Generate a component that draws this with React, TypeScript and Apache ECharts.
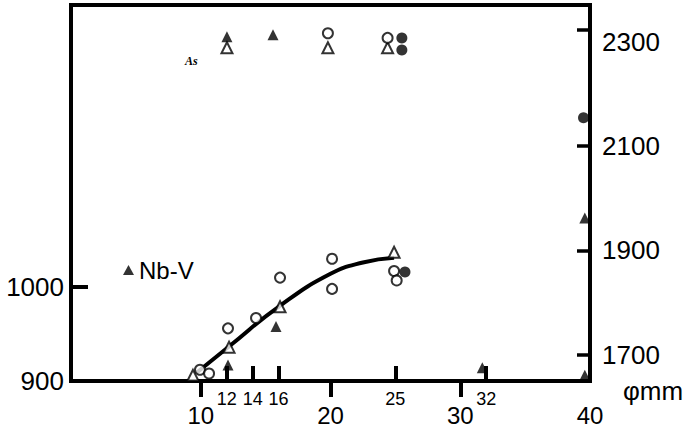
import React, { useEffect, useRef } from 'react';
import * as echarts from 'echarts';

// Axis ticks and labels
const majorXTicks = [10, 20, 30];
const majorXLabels = [10, 20, 30, 40];
const minorXTicks = [12, 14, 16, 25, 32];
const leftYTicks = [1000];
const leftYLabels = [900, 1000];
const rightYTicks = [1700, 1900, 2100, 2323];
const rightYLabels = [1700, 1900, 2100, 2300];

// Lower group (left axis)
const openCirclesLow = [[9.94, 912], [10.64, 908], [12.1, 956], [14.26, 967], [16.11, 1010], [20.12, 1030], [20.12, 998], [24.9, 1017], [25.1, 1007]];
const openTrianglesLow = [[9.4, 906], [12.18, 936], [16.11, 979], [24.9, 1037]];
const nbvLow = [[12.1, 917], [15.8, 958], [31.7, 914], [39.6, 906]];
const filledCirclesLow = [[25.74, 1016]];
const curveX = [9.7, 12.2, 16.1, 20.0, 22.5, 24.9];
const curveY = [909, 937, 980, 1014, 1026, 1031];

// Upper group (right axis)
const nbvHigh = [[12.02, 2309], [15.57, 2313], [39.6, 1962]];
const openTrianglesHigh = [[12.02, 2288], [19.8, 2288], [24.4, 2288]];
const openCirclesHigh = [[19.8, 2316], [24.4, 2307]];
const filledCirclesHigh = [[25.5, 2307], [25.5, 2284], [39.5, 2154]];

export default function App() {
  const ref = useRef<HTMLDivElement>(null);
  useEffect(() => {
    const chart = echarts.init(ref.current!, null, { renderer: 'svg' });
    const font = "'Liberation Sans', Arial, Helvetica, sans-serif";
    const black = '#000';
    const plain = (v: number) => String(v);
    const openStyle = { color: '#fff', borderColor: black, borderWidth: 2 };
    const filledStyle = { color: black };
    const sc = (name: string, data: number[][], symbol: string, size: number, style: any, yIdx: number) => ({
      name, type: 'scatter', xAxisIndex: 0, yAxisIndex: yIdx, data, symbol, symbolSize: size,
      itemStyle: style, z: 3, clip: false,
    });
    chart.setOption({
      animation: false,
      backgroundColor: '#fff',
      textStyle: { fontFamily: font, color: black },
      grid: { left: 71, right: 97, top: 5, bottom: 48, show: true, borderColor: black, borderWidth: 4, backgroundColor: 'transparent' },
      legend: {
        data: ['Nb-V'], left: 123, top: 258, padding: 0, itemWidth: 11, itemHeight: 10, itemGap: 10, icon: 'triangle',
        selectedMode: false, textStyle: { fontSize: 24, color: black, fontFamily: font },
      },
      xAxis: [
        {
          type: 'value', min: 0, max: 40, position: 'bottom', splitLine: { show: false },
          axisLine: { show: true, onZero: false, lineStyle: { color: black, width: 4 } },
          axisTick: { show: true, customValues: majorXTicks, length: 16, inside: false, lineStyle: { color: black, width: 4 } },
          axisLabel: { customValues: majorXLabels, formatter: plain, fontSize: 24, lineHeight: 20, margin: 24, color: black, fontFamily: font },
          name: 'φmm', nameLocation: 'end', nameGap: 33,
          nameTextStyle: { fontSize: 26, lineHeight: 20, verticalAlign: 'top', color: black, fontFamily: font },
        },
        {
          type: 'value', min: 0, max: 40, position: 'bottom', splitLine: { show: false },
          axisLine: { show: false, onZero: false },
          axisTick: { show: true, customValues: minorXTicks, length: 15, inside: true, lineStyle: { color: black, width: 4 } },
          axisLabel: { customValues: minorXTicks, formatter: plain, fontSize: 18, margin: 9, color: black, fontFamily: font },
        },
      ],
      yAxis: [
        {
          type: 'value', min: 900, max: 1300, position: 'left', splitLine: { show: false },
          axisLine: { show: true, onZero: false, lineStyle: { color: black, width: 4 } },
          axisTick: { show: true, customValues: leftYTicks, length: 17, inside: true, lineStyle: { color: black, width: 4 } },
          axisLabel: { customValues: leftYLabels, formatter: plain, fontSize: 26, margin: 7, color: black, fontFamily: font },
        },
        {
          type: 'value', min: 1650, max: 2370, position: 'right', splitLine: { show: false },
          axisLine: { show: true, onZero: false, lineStyle: { color: black, width: 4 } },
          axisTick: { show: true, customValues: rightYTicks, length: 13, inside: true, lineStyle: { color: black, width: 3.5 } },
          axisLabel: { customValues: rightYLabels, formatter: plain, fontSize: 26, margin: 12, color: black, fontFamily: font },
        },
      ],
      graphic: [
        { type: 'text', left: 185, top: 55, style: { text: 'As', font: 'italic bold 12px serif', fill: black } },
      ],
      series: [
        {
          name: 'fit', type: 'line', xAxisIndex: 0, yAxisIndex: 0, smooth: 0.5, symbol: 'none',
          data: curveX.map((x, i) => [x, curveY[i]]),
          lineStyle: { color: black, width: 4 }, z: 2,
        },
        sc('open circle', openCirclesLow, 'circle', 10, openStyle, 0),
        sc('open triangle', openTrianglesLow, 'triangle', 11, openStyle, 0),
        sc('Nb-V', nbvLow, 'triangle', 11, filledStyle, 0),
        sc('filled circle', filledCirclesLow, 'circle', 11, filledStyle, 0),
        sc('Nb-V', nbvHigh, 'triangle', 11, filledStyle, 1),
        sc('open triangle', openTrianglesHigh, 'triangle', 11, openStyle, 1),
        sc('open circle', openCirclesHigh, 'circle', 10, openStyle, 1),
        sc('filled circle', filledCirclesHigh, 'circle', 11, filledStyle, 1),
      ],
    });
    return () => chart.dispose();
  }, []);
  return <div ref={ref} style={{ position: 'absolute', left: 0, top: 0, width: 687, height: 429 }} />;
}
